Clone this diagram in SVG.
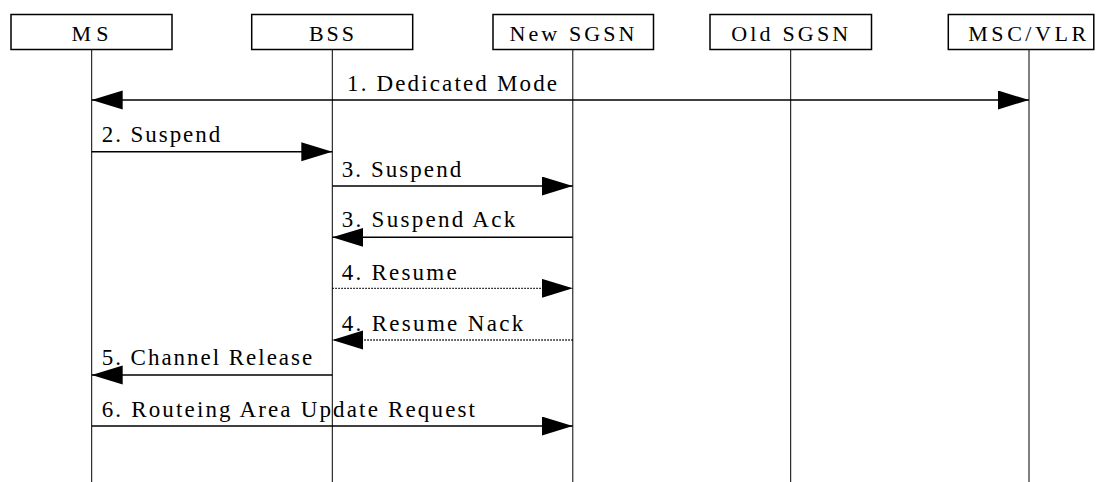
<svg xmlns="http://www.w3.org/2000/svg" width="1100" height="482" viewBox="0 0 1100 482">
<style>
.box{fill:#fff;stroke:#000;stroke-width:1.5}
.life{stroke:#000;stroke-width:1}
.msg{stroke:#000;stroke-width:1.5;fill:none}
.dot{stroke-dasharray:1.5 1.5;stroke-width:1.3}
.t{font-family:'Liberation Serif','Times New Roman',serif;font-size:23px;fill:#000}
.h{font-size:22px}
.c{text-anchor:middle}
</style>
<defs>
<marker id="ah" markerUnits="userSpaceOnUse" markerWidth="32" markerHeight="20" refX="31" refY="9.5" orient="auto-start-reverse">
<path d="M0,0 L31,9.5 L0,19 z" fill="#000"/>
</marker>
</defs>
<rect width="1100" height="482" fill="#fff"/>
<g id="MS"><rect class="box" x="11" y="14.5" width="161" height="35"/><line class="life" x1="91.7" y1="49.5" x2="91.7" y2="482"/><text class="t h c" x="90" y="40.7" textLength="37" lengthAdjust="spacing">MS</text></g>
<g id="BSS"><rect class="box" x="251.7" y="14.5" width="161" height="35"/><line class="life" x1="332.3" y1="49.5" x2="332.3" y2="482"/><text class="t h c" x="331.5" y="40.7" textLength="45" lengthAdjust="spacing">BSS</text></g>
<g id="NewSGSN"><rect class="box" x="493" y="14.5" width="160.5" height="35"/><line class="life" x1="572.8" y1="49.5" x2="572.8" y2="482"/><text class="t h c" x="572" y="40.7" textLength="125" lengthAdjust="spacing">New SGSN</text></g>
<g id="OldSGSN"><rect class="box" x="710" y="14.5" width="161.5" height="35"/><line class="life" x1="790.7" y1="49.5" x2="790.7" y2="482"/><text class="t h c" x="789.7" y="40.7" textLength="117" lengthAdjust="spacing">Old SGSN</text></g>
<g id="MSCVLR"><rect class="box" x="948.3" y="14.5" width="145.5" height="35"/><line class="life" x1="1029" y1="49.5" x2="1029" y2="482"/><text class="t h c" x="1027.2" y="40.7" textLength="118" lengthAdjust="spacing">MSC/VLR</text></g>
<g id="connectors">
<line class="msg" x1="91.7" y1="100" x2="1029" y2="100" marker-start="url(#ah)" marker-end="url(#ah)"/>
<text class="t" x="347" y="90.7" textLength="210" lengthAdjust="spacing">1. Dedicated Mode</text>
<line class="msg" x1="91.7" y1="151.7" x2="332.3" y2="151.7" marker-end="url(#ah)"/>
<text class="t" x="101.7" y="141.7" textLength="118.5" lengthAdjust="spacing">2. Suspend</text>
<line class="msg" x1="332.3" y1="186" x2="572.8" y2="186" marker-end="url(#ah)"/>
<text class="t" x="341.7" y="176.7" textLength="119.5" lengthAdjust="spacing">3. Suspend</text>
<line class="msg" x1="572.8" y1="237.3" x2="332.3" y2="237.3" marker-end="url(#ah)"/>
<text class="t" x="341.7" y="227.3" textLength="173.5" lengthAdjust="spacing">3. Suspend Ack</text>
<line class="msg dot" x1="332.3" y1="288.3" x2="572.8" y2="288.3" marker-end="url(#ah)"/>
<text class="t" x="341.7" y="279.5" textLength="115" lengthAdjust="spacing">4. Resume</text>
<line class="msg dot" x1="572.8" y1="340" x2="332.3" y2="340" marker-end="url(#ah)"/>
<text class="t" x="341.7" y="331" textLength="181.5" lengthAdjust="spacing">4. Resume Nack</text>
<line class="msg" x1="332.3" y1="375" x2="91.7" y2="375" marker-end="url(#ah)"/>
<text class="t" x="101.7" y="365" textLength="210.5" lengthAdjust="spacing">5. Channel Release</text>
<line class="msg" x1="91.7" y1="426" x2="572.8" y2="426" marker-end="url(#ah)"/>
<text class="t" x="101.7" y="416.7" textLength="373.3" lengthAdjust="spacing">6. Routeing Area Update Request</text>
</g>
</svg>
